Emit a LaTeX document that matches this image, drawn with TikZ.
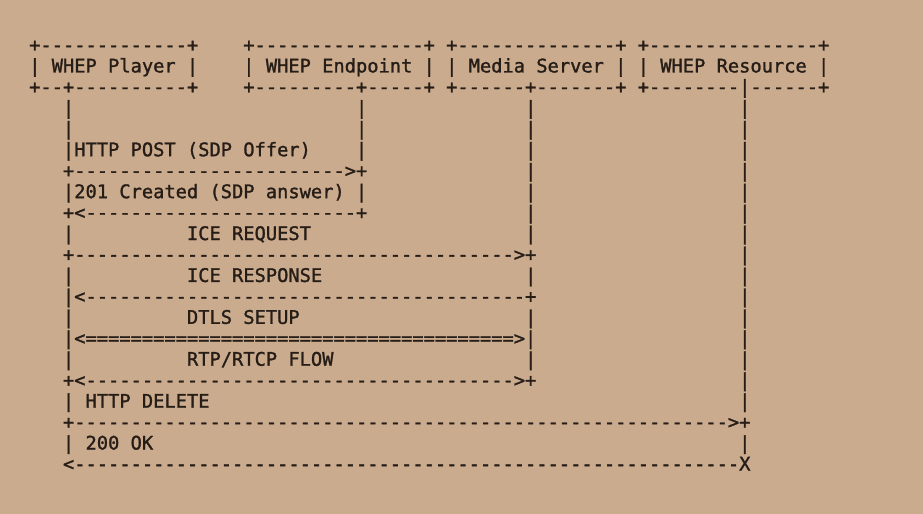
\documentclass[tikz,border=0pt]{standalone}
\usepackage{fontspec}
\setmonofont[FakeBold=1.4]{DejaVu Sans Mono}
\usepackage{tikz}
\usepackage{color}

\definecolor{paper}{RGB}{202,171,142}
\definecolor{ink}{RGB}{38,29,23}

\newcommand{\sk}[1]{\hspace*{#1\fontcharwd\font`\x}}
\newcommand{\rep}[2]{\foreach \n in {1,...,#1}{#2}}

\tikzset{ascrow/.style={anchor=base west, inner sep=0pt, text=ink,
  font=\ttfamily\fontsize{18.72bp}{21bp}\selectfont}}

\begin{document}
\begin{tikzpicture}[x=1bp,y=-1bp]
  \fill[paper] (0,0) rectangle (923,514);

  % Boxes
  \node[ascrow] (r0) at (29,51.5) {+\rep{13}{-}+\sk{4}+\rep{15}{-}+\sk{1}+\rep{14}{-}+\sk{1}+\rep{15}{-}+};
  \node[ascrow] (r1) at (29,72.45) {| WHEP Player |\sk{4}| WHEP Endpoint |\sk{1}| Media Server |\sk{1}| WHEP Resource |};
  \node[ascrow] (r2) at (29,93.4) {+--+\rep{10}{-}+\sk{4}+\rep{9}{-}+\rep{5}{-}+\sk{1}+\rep{6}{-}+\rep{7}{-}+\sk{1}+\rep{8}{-}|\rep{6}{-}+};

  % Lifelines
  \node[ascrow] (r3) at (29,114.35) {\sk{3}|\sk{25}|\sk{14}|\sk{18}|};
  \node[ascrow] (r4) at (29,135.3) {\sk{3}|\sk{25}|\sk{14}|\sk{18}|};

  % Messages
  \node[ascrow] (r5) at (29,156.25) {\sk{3}|HTTP POST (SDP Offer)\sk{4}|\sk{14}|\sk{18}|};
  \node[ascrow] (r6) at (29,177.2) {\sk{3}+\rep{24}{-}>+\sk{14}|\sk{18}|};
  \node[ascrow] (r7) at (29,198.15) {\sk{3}|201 Created (SDP answer)\sk{1}|\sk{14}|\sk{18}|};
  \node[ascrow] (r8) at (29,219.1) {\sk{3}+<\rep{24}{-}+\sk{14}|\sk{18}|};
  \node[ascrow] (r9) at (29,240.05) {\sk{3}|\sk{10}ICE REQUEST\sk{19}|\sk{18}|};
  \node[ascrow] (r10) at (29,261) {\sk{3}+\rep{39}{-}>+\sk{18}|};
  \node[ascrow] (r11) at (29,281.95) {\sk{3}|\sk{10}ICE RESPONSE\sk{18}|\sk{18}|};
  \node[ascrow] (r12) at (29,302.9) {\sk{3}|<\rep{39}{-}+\sk{18}|};
  \node[ascrow] (r13) at (29,323.85) {\sk{3}|\sk{10}DTLS SETUP\sk{20}|\sk{18}|};
  \node[ascrow] (r14) at (29,344.8) {\sk{3}|<\rep{38}{=}>|\sk{18}|};
  \node[ascrow] (r15) at (29,365.75) {\sk{3}|\sk{10}RTP/RTCP FLOW\sk{17}|\sk{18}|};
  \node[ascrow] (r16) at (29,386.7) {\sk{3}+<\rep{38}{-}>+\sk{18}|};
  \node[ascrow] (r17) at (29,407.65) {\sk{3}| HTTP DELETE\sk{47}|};
  \node[ascrow] (r18) at (29,428.6) {\sk{3}+\rep{58}{-}>+};
  \node[ascrow] (r19) at (29,449.55) {\sk{3}| 200 OK\sk{52}|};
  \node[ascrow] (r20) at (29,470.5) {\sk{3}<\rep{59}{-}X};
\end{tikzpicture}
\end{document}
